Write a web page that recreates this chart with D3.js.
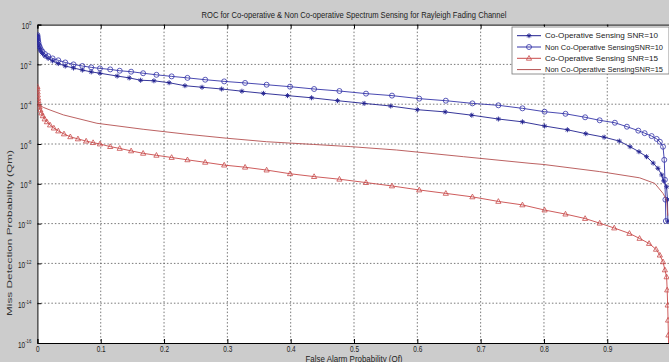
<!DOCTYPE html>
<meta charset="utf-8">
<script src="https://d3js.org/d3.v7.min.js"></script>
<style>
  body { margin: 0; background: #cccccc; }
  svg { display: block; font-family: 'Liberation Sans', Arial, sans-serif; }
  .axis .domain { stroke: #000; }
  .axis line { stroke: #000; }
  .axis text { fill: #222; font-size: 9px; }
</style>
<body>
<svg width="669" height="362"></svg>
</body>
<script>

// Co-Operative Sensing SNR=10 (blue, * markers)
var pfCoop10 = [0, 0.0003, 0.0006, 0.001, 0.0016, 0.0025, 0.0037, 0.0055, 0.008, 0.012, 0.017, 0.024, 0.033, 0.044, 0.057, 0.071, 0.085,
  0.0988, 0.126, 0.145, 0.163, 0.184, 0.208, 0.233, 0.260, 0.291, 0.323, 0.357, 0.395, 0.433, 0.474,
  0.516, 0.558, 0.600, 0.644, 0.686, 0.728, 0.766, 0.801, 0.837, 0.866,
  0.895, 0.919, 0.936, 0.950, 0.962, 0.9725, 0.980, 0.986, 0.989, 0.9937, 0.995, 0.9957];
var qmCoop10 = [2.8e-1, 2.4e-1, 1.9e-1, 1.5e-1, 1.1e-1, 8.4e-2, 6.3e-2, 4.7e-2, 3.5e-2, 2.6e-2, 2.0e-2, 1.5e-2, 1.1e-2, 8.3e-3, 6.6e-3, 5.2e-3, 4.2e-3,
  3.6e-3, 2.6e-3, 2.1e-3, 1.6e-3, 1.5e-3, 1.2e-3, 8.5e-4, 7.1e-4, 5.8e-4, 4.5e-4, 3.5e-4, 2.7e-4, 2.1e-4, 1.5e-4,
  1.1e-4, 8.1e-5, 5.3e-5, 4.1e-5, 2.8e-5, 1.8e-5, 1.3e-5, 8.0e-6, 5.2e-6, 3.3e-6,
  2.2e-6, 1.4e-6, 7.3e-7, 4.1e-7, 2.3e-7, 1.1e-7, 6.0e-8, 2.8e-8, 1.4e-8, 7.1e-9, 1.6e-9, 1.3e-10];

// Non Co-Operative Sensing SNR=10 (blue, o markers)
var pfNon10 = [0, 0.0003, 0.0006, 0.001, 0.0016, 0.0025, 0.0037, 0.0055, 0.008, 0.012, 0.017, 0.024, 0.033, 0.044, 0.057, 0.071, 0.085,
  0.0988, 0.115, 0.130, 0.148, 0.167, 0.188, 0.212, 0.237, 0.265, 0.295, 0.328, 0.362, 0.399, 0.437, 0.477,
  0.519, 0.560, 0.603, 0.645, 0.687, 0.728, 0.766, 0.801, 0.834, 0.865, 0.888,
  0.912, 0.931, 0.949, 0.959, 0.970, 0.978, 0.983, 0.988, 0.990, 0.991, 0.9918, 0.9925];
var qmNon10 = [3.0e-1, 2.5e-1, 2.0e-1, 1.6e-1, 1.26e-1, 9.4e-2, 7.5e-2, 5.6e-2, 4.4e-2, 3.3e-2, 2.6e-2, 2.0e-2, 1.6e-2, 1.25e-2, 1.0e-2, 8.3e-3, 7.1e-3,
  6.3e-3, 5.6e-3, 4.8e-3, 4.3e-3, 3.6e-3, 3.0e-3, 2.5e-3, 2.1e-3, 1.7e-3, 1.4e-3, 1.17e-3, 9.5e-4, 7.6e-4, 5.8e-4, 4.6e-4,
  3.4e-4, 2.7e-4, 1.9e-4, 1.5e-4, 1.1e-4, 8.8e-5, 6.2e-5, 4.2e-5, 3.3e-5, 2.2e-5, 1.55e-5,
  1.17e-5, 7.4e-6, 4.7e-6, 3.5e-6, 2.5e-6, 1.8e-6, 1.3e-6, 7.3e-7, 1.6e-7, 1.6e-8, 1.6e-9, 1.35e-10];

// Co-Operative Sensing SNR=15 (red, triangle markers)
var pfCoop15 = [0, 0.0002, 0.0004, 0.0007, 0.0011, 0.0016, 0.0023, 0.0033, 0.0046, 0.0063, 0.0086, 0.0115, 0.015, 0.020, 0.026, 0.033, 0.042, 0.052, 0.064, 0.077, 0.088,
  0.0988, 0.115, 0.130, 0.148, 0.167, 0.188, 0.212, 0.237, 0.265, 0.295, 0.328, 0.362, 0.399, 0.437, 0.477,
  0.519, 0.560, 0.603, 0.645, 0.687, 0.728, 0.766, 0.801, 0.834, 0.865, 0.888,
  0.911, 0.935, 0.951, 0.966, 0.977, 0.983, 0.988, 0.991, 0.9937, 0.9946, 0.9954, 0.996, 0.9965, 0.997];
var qmCoop15 = [7.6e-4, 5.8e-4, 4.1e-4, 2.9e-4, 2.0e-4, 1.45e-4, 1.0e-4, 7.2e-5, 5.1e-5, 3.6e-5, 2.6e-5, 1.8e-5, 1.3e-5, 9.0e-6, 6.3e-6, 4.5e-6, 3.2e-6, 2.3e-6, 1.8e-6, 1.4e-6, 1.17e-6,
  1.0e-6, 7.4e-7, 6.0e-7, 4.5e-7, 3.4e-7, 2.7e-7, 2.1e-7, 1.6e-7, 1.2e-7, 8.7e-8, 6.8e-8, 4.9e-8, 3.2e-8, 2.3e-8, 1.7e-8,
  1.15e-8, 7.8e-9, 4.9e-9, 3.3e-9, 2.2e-9, 1.3e-9, 8.7e-10, 4.8e-10, 3.0e-10, 1.8e-10, 1.05e-10,
  6.0e-11, 3.2e-11, 1.8e-11, 1.0e-11, 5.1e-12, 2.6e-12, 1.2e-12, 4.7e-13, 2.1e-13, 4.6e-14, 8e-15, 1.4e-15, 2.5e-16, 4.5e-17];

// Non Co-Operative Sensing SNR=15 (red, line only)
var pfNon15 = [0, 0.01, 0.02, 0.041, 0.094, 0.167, 0.236, 0.299, 0.362, 0.436, 0.494, 0.567, 0.673, 0.778, 0.800, 0.888, 0.900, 0.951, 0.975, 0.988, 0.9937, 0.9955];
var qmNon15 = [1.0e-4, 6.8e-5, 5.1e-5, 2.9e-5, 1.1e-5, 5.5e-6, 3.1e-6, 1.95e-6, 1.3e-6, 9.5e-7, 7.4e-7, 5.0e-7, 2.3e-7, 1.07e-7, 9.3e-8, 4.1e-8, 3.6e-8, 2.0e-8, 1.05e-8, 3.3e-9, 1.55e-9, 2.5e-10];

var xTicks = [0, 0.1, 0.2, 0.3, 0.4, 0.5, 0.6, 0.7, 0.8, 0.9, 1];
var yExps = [0, -2, -4, -6, -8, -10, -12, -14, -16];
var legendLabels = ["Co-Operative Sensing SNR=10", "Non Co-Operative SensingSNR=10", "Co-Operative Sensing SNR=15", "Non Co-Operative SensingSNR=15"];

var svg = d3.select("svg");
var pLeft = 37.4, pRight = 670.6, pTop = 24.6, pBottom = 343;
var squeeze = 0.72;   // the picture is narrower than tall, texts look condensed

var x = d3.scaleLinear().domain([0, 1]).range([pLeft, pRight]);
var y = d3.scaleLog().domain([1e-16, 1]).range([pBottom, pTop]);

// plot background
svg.append("rect")
    .attr("x", pLeft).attr("y", pTop)
    .attr("width", pRight - pLeft).attr("height", pBottom - pTop)
    .attr("fill", "#fff");

svg.append("clipPath").attr("id", "clip")
  .append("rect")
    .attr("x", pLeft).attr("y", pTop)
    .attr("width", pRight - pLeft).attr("height", pBottom - pTop);

// grid
var grid = svg.append("g")
    .attr("stroke", "#555")
    .attr("stroke-width", 0.8)
    .attr("stroke-dasharray", "1.5,2");
grid.selectAll(".vg")
  .data(xTicks.slice(1, -1))
  .enter().append("line")
    .attr("x1", function(d) { return x(d); }).attr("x2", function(d) { return x(d); })
    .attr("y1", pTop).attr("y2", pBottom);
grid.selectAll(".hg")
  .data(yExps.slice(1, -1))
  .enter().append("line")
    .attr("x1", pLeft).attr("x2", pRight)
    .attr("y1", function(d) { return y(Math.pow(10, d)); })
    .attr("y2", function(d) { return y(Math.pow(10, d)); });

// axes
svg.append("g")
    .attr("class", "axis")
    .attr("transform", "translate(0," + pBottom + ")")
    .call(d3.axisBottom(x).tickValues(xTicks).tickSize(-4).tickPadding(3)
      .tickFormat(function(d) { return d === 0 ? "0" : (d === 1 ? "" : d3.format(".1f")(d)); }))
  .selectAll("text")
    .attr("transform", "scale(" + squeeze + ",1)");

svg.append("g")
    .attr("class", "axis")
    .attr("transform", "translate(0," + pTop + ")")
    .call(d3.axisTop(x).tickValues(xTicks).tickSize(-4).tickFormat(""));

var yAxis = svg.append("g")
    .attr("class", "axis")
    .attr("transform", "translate(" + pLeft + ",0)")
    .call(d3.axisLeft(y).tickValues(yExps.map(function(e) { return Math.pow(10, e); }))
      .tickSize(-4).tickPadding(5).tickFormat(""));

yAxis.selectAll(".tick").each(function(d) {
  var e = Math.round(Math.log10(d));
  var t = d3.select(this).append("text")
      .attr("x", -6 / squeeze).attr("dy", "0.45em")
      .attr("text-anchor", "end")
      .attr("transform", "scale(" + squeeze + ",1)");
  t.append("tspan").text("10");
  t.append("tspan").attr("dy", "-0.7em").attr("font-size", "6px").text(e);
});

// curves
var line = d3.line()
    .x(function(d) { return x(d[0]); })
    .y(function(d) { return y(d[1]); });

function pairs(pf, qm) {
  return pf.map(function(p, i) { return [p, qm[i]]; });
}

var series = [
  {name: legendLabels[0], data: pairs(pfCoop10, qmCoop10), color: "#20208f", marker: "star"},
  {name: legendLabels[1], data: pairs(pfNon10, qmNon10), color: "#3434a8", marker: "circle"},
  {name: legendLabels[2], data: pairs(pfCoop15, qmCoop15), color: "#c84a4a", marker: "triangle"},
  {name: legendLabels[3], data: pairs(pfNon15, qmNon15), color: "#b45050", marker: null}
];

var starPath = "M-2.5,0L2.5,0M0,-2.5L0,2.5M-1.7,-1.7L1.7,1.7M-1.7,1.7L1.7,-1.7";
var triPath = "M0,-2.8L2.6,1.9L-2.6,1.9Z";

function drawMarker(g, type, color) {
  if (type === "star") {
    g.append("path").attr("d", starPath).attr("stroke", color).attr("stroke-width", 0.9).attr("fill", "none");
  } else if (type === "circle") {
    g.append("circle").attr("r", 2.5).attr("stroke", color).attr("stroke-width", 0.8).attr("fill", "none");
  } else if (type === "triangle") {
    g.append("path").attr("d", triPath).attr("stroke", color).attr("stroke-width", 0.8).attr("fill", "none");
  }
}

var plot = svg.append("g").attr("clip-path", "url(#clip)");

series.forEach(function(s) {
  plot.append("path")
      .datum(s.data)
      .attr("fill", "none")
      .attr("stroke", s.color)
      .attr("stroke-width", 0.9)
      .attr("d", line);
  if (s.marker) {
    plot.append("g").selectAll("g")
      .data(s.data)
      .enter().append("g")
        .attr("transform", function(d) { return "translate(" + x(d[0]) + "," + y(d[1]) + ")"; })
        .each(function() { drawMarker(d3.select(this), s.marker, s.color); });
  }
});

// title and labels
svg.append("text")
    .attr("x", (pLeft + pRight) / 2).attr("y", 18)
    .attr("text-anchor", "middle")
    .attr("font-size", "9px").attr("fill", "#222")
    .attr("textLength", 305).attr("lengthAdjust", "spacingAndGlyphs")
    .text("ROC for Co-operative & Non Co-operative Spectrum Sensing for Rayleigh Fading Channel");

svg.append("text")
    .attr("x", (pLeft + pRight) / 2).attr("y", 361.5)
    .attr("text-anchor", "middle")
    .attr("font-size", "9px").attr("fill", "#222")
    .attr("textLength", 97).attr("lengthAdjust", "spacingAndGlyphs")
    .text("False Alarm Probability (Qf)");

svg.append("text")
    .attr("transform", "translate(10,233) rotate(-90) scale(1," + squeeze + ")")
    .attr("text-anchor", "middle")
    .attr("dy", "0.35em")
    .attr("font-size", "9.5px").attr("fill", "#333")
    .attr("textLength", 166).attr("lengthAdjust", "spacingAndGlyphs")
    .text("Miss Detection Probability (Qm)");

// legend
var lg = svg.append("g").attr("transform", "translate(512,27)");
lg.append("rect")
    .attr("width", 157).attr("height", 47)
    .attr("fill", "#fff").attr("stroke", "#777").attr("stroke-width", 0.8);

var item = lg.selectAll(".item")
  .data(series)
  .enter().append("g")
    .attr("transform", function(d, i) { return "translate(0," + (8.7 + i * 11.3) + ")"; });
item.append("line")
    .attr("x1", 5).attr("x2", 29)
    .attr("stroke", function(d) { return d.color; });
item.each(function(d) {
  var m = d3.select(this).append("g").attr("transform", "translate(17,0)");
  drawMarker(m, d.marker, d.color);
});
item.append("text")
    .attr("x", 33).attr("dy", "0.35em")
    .attr("font-size", "7.8px").attr("fill", "#222")
    .attr("textLength", function(d, i) { return i % 2 ? 118 : 113; })
    .attr("lengthAdjust", "spacingAndGlyphs")
    .text(function(d) { return d.name; });

</script>
